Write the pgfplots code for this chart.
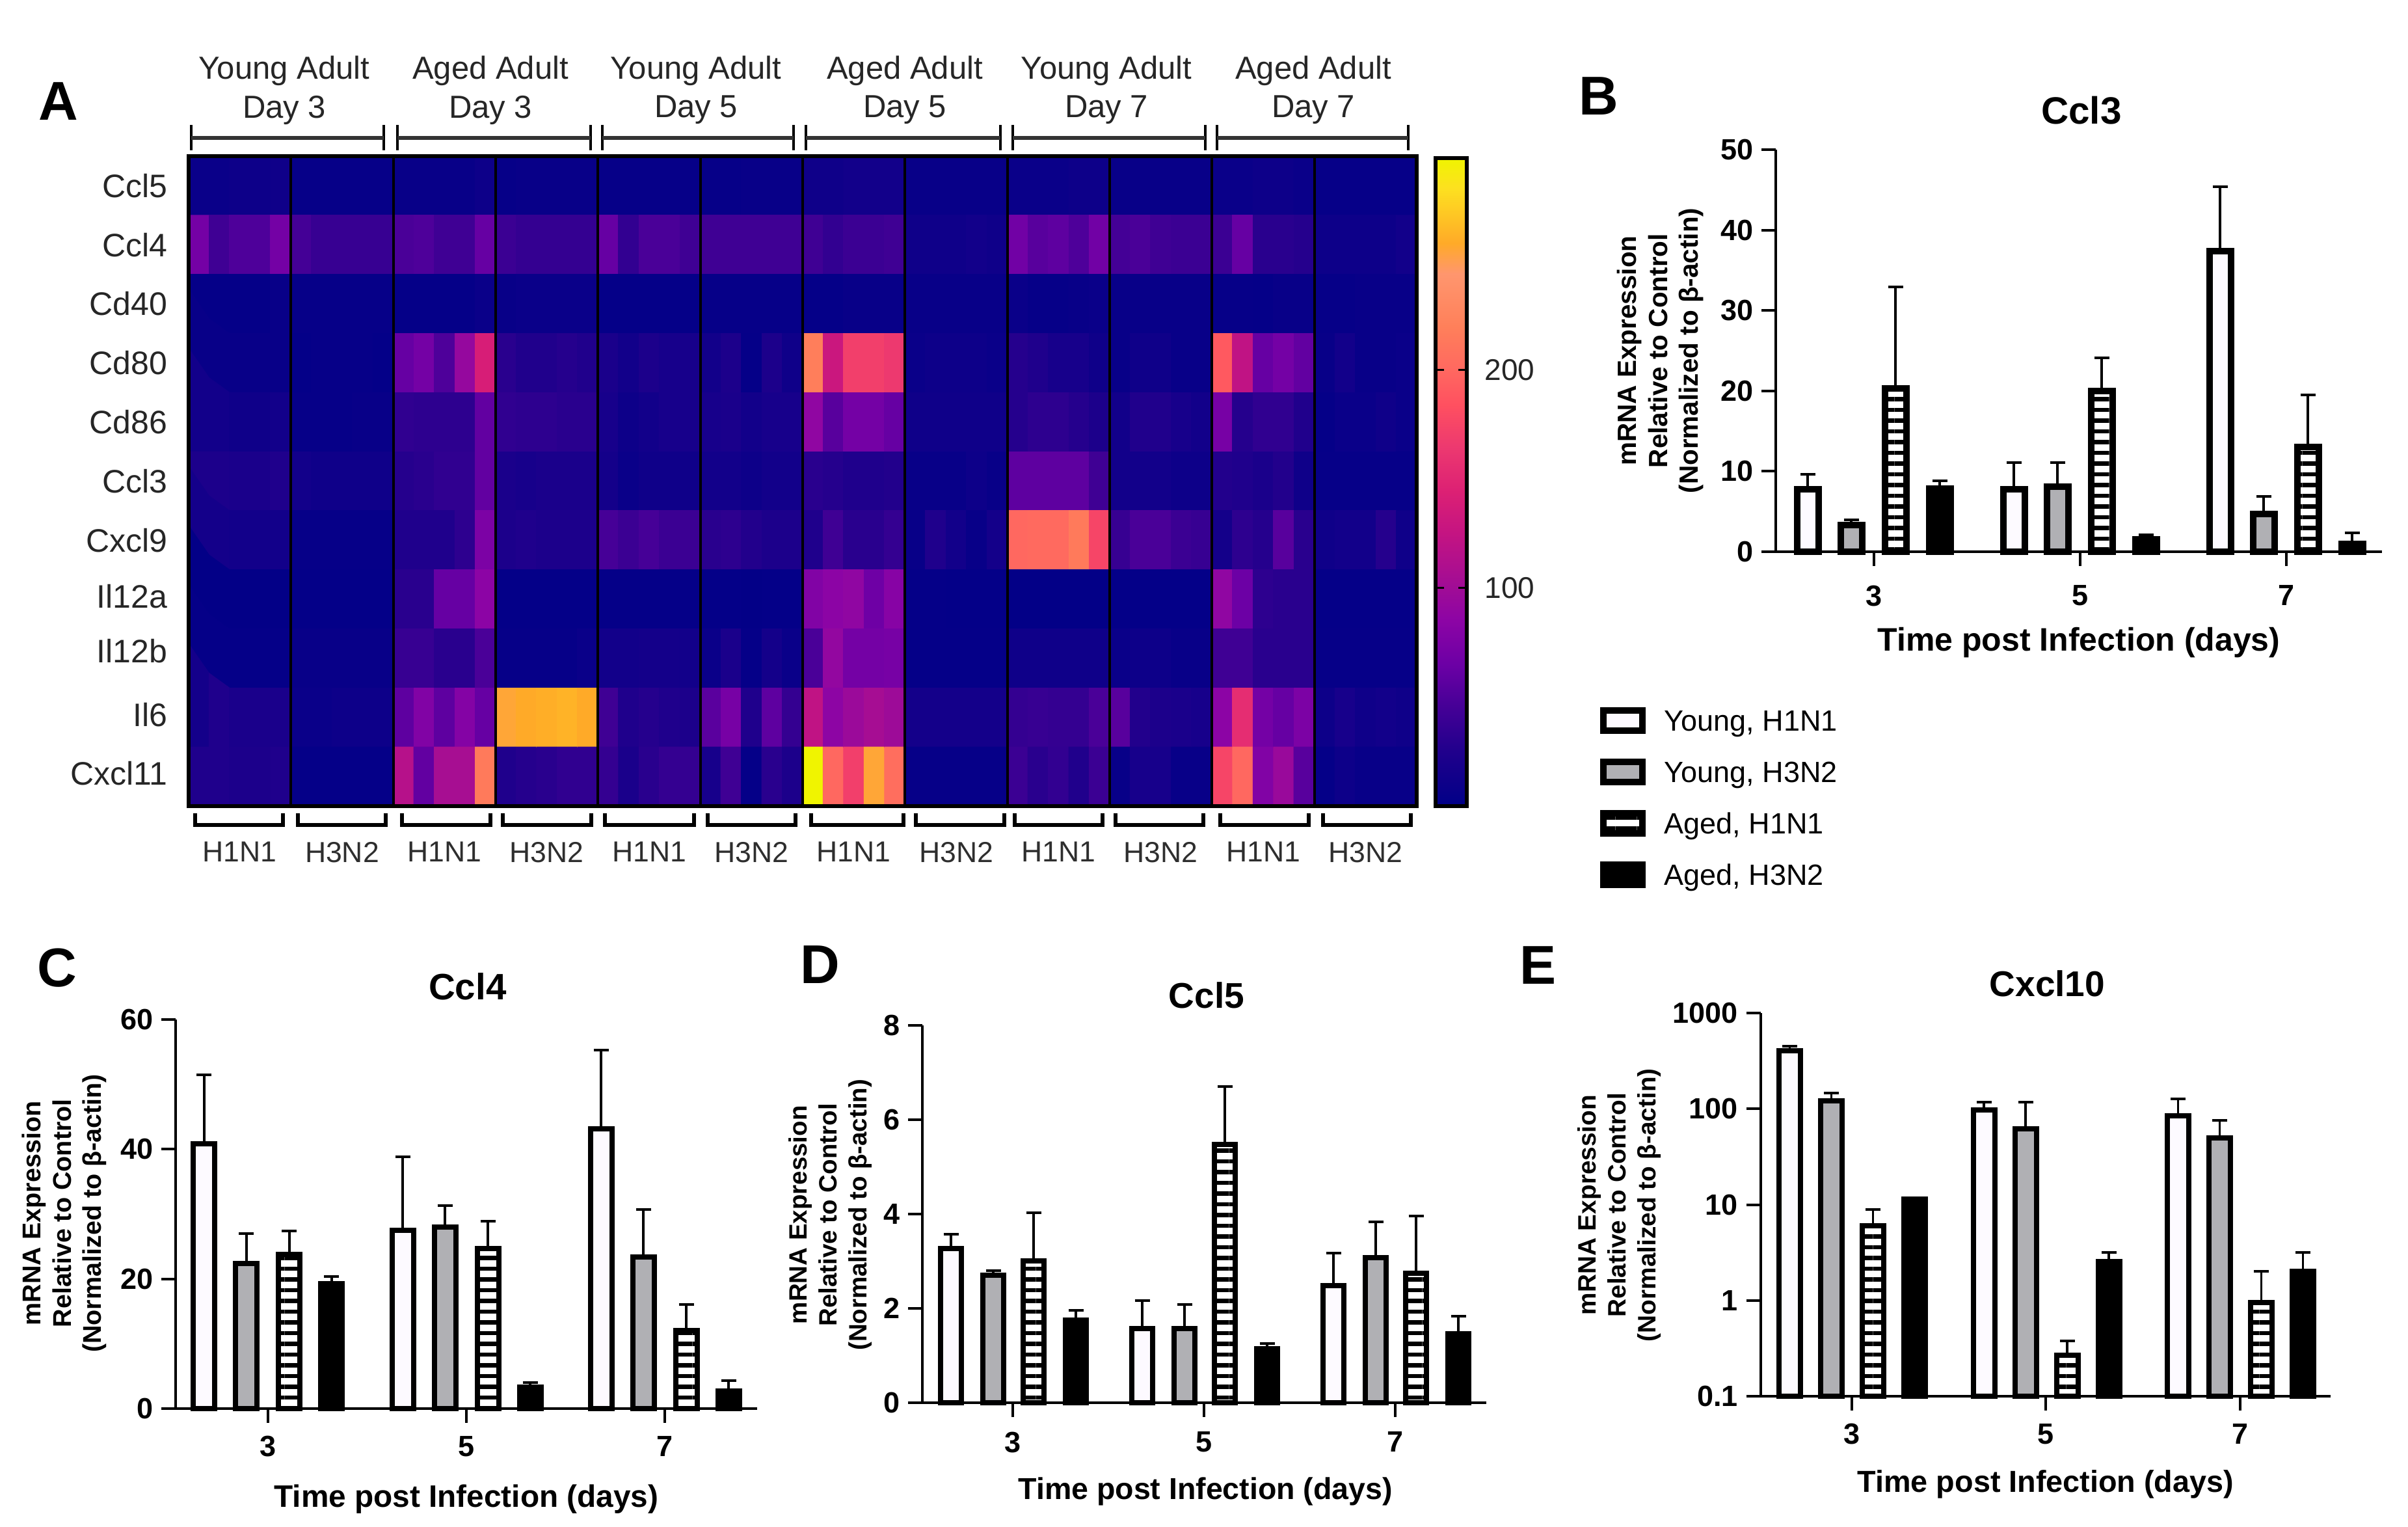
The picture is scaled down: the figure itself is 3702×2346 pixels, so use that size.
\documentclass[border=0pt]{standalone}
\usepackage{fontspec}
\setmainfont{Liberation Sans}
\usepackage{pgfplots}
\pgfplotsset{compat=1.18}
\usetikzlibrary{patterns.meta}
\definecolor{wfill}{RGB}{253,250,255}
\definecolor{gfill}{RGB}{176,176,180}
\newcommand{\fnt}[1]{\fontsize{#1}{#1}\selectfont}
\pgfplotsset{
  myleg/.style={legend image code/.code={\draw[##1,line width=2pt] (0pt,-3.1pt) rectangle (12pt,3.1pt);\path[draw=none,fill=none] (0pt,0pt) -- (18.8pt,0pt);}},
  s1/.style={ybar,bar shift=#1,draw=black,fill=wfill,myleg},
  s2/.style={ybar,bar shift=#1,draw=black,fill=gfill,myleg},
  s3/.style={ybar,bar shift=#1,draw=black,pattern={Lines[angle=0,distance=3.3pt,line width=1.35pt]},pattern color=black,myleg},
  s4/.style={ybar,bar shift=#1,draw=black,fill=black,myleg},
  errs/.style={error bars/.cd,y dir=plus,y explicit,
     error bar style={xshift=#1,line width=.7pt,black,solid},
     error mark options={rotate=90,line width=.8pt,mark size=2.3pt,black,solid}},
  every axis title shift=0pt,
  barax/.style={scale only axis,clip=false,anchor=south west,
     axis x line*=bottom,axis y line*=left,
     axis line style={line width=.8pt,black},
     tick align=outside,major tick length=4.4pt,tick style={black,line width=.8pt},
     xtick={3,5,7},xticklabels={3,5,7},
     tick label style={font=\bfseries\fnt{9}},
     xticklabel shift=2.4pt,yticklabel shift=-1pt,
     title style={font=\bfseries\fnt{11.7},anchor=center,yshift=0pt},
     xlabel={Time post Infection (days)},
     xlabel style={font=\bfseries\fnt{10},anchor=center},
     ylabel={mRNA Expression\\Relative to Control\\(Normalized to β-actin)},
     ylabel style={align=center,anchor=center,font=\bfseries\fontsize{8.1}{9.5}\selectfont},
  },
}
\begin{document}
\begin{tikzpicture}
\begin{scope}[x=0.2pt,y=-0.2pt]
\path[use as bounding box] (0,0) rectangle (3702,2346);
\end{scope}

% ---------- A: heat map
\begin{axis}[scale only axis,at={(58pt,-247.8pt)},anchor=south west,
  width=377.6pt,height=199.8pt,
  xmin=-0.5,xmax=59.5,ymin=-0.5,ymax=10.5,y dir=reverse,enlargelimits=false,
  axis on top,axis line style={line width=1.3pt,black},
  xtick={2,7,12,17,22,27,32,37,42,47,52,57},
  xticklabels={H1N1,H3N2,H1N1,H3N2,H1N1,H3N2,H1N1,H3N2,H1N1,H3N2,H1N1,H3N2},
  ytick={0,1,2,3,4,5,6,6.95,7.88,8.95,9.95},
  yticklabels={Ccl5,Ccl4,Cd40,Cd80,Cd86,Ccl3,Cxcl9,Il12a,Il12b,Il6,Cxcl11},
  major tick length=0pt,
  xticklabel style={font=\fnt{8.9},text=black!82,yshift=-7.5pt},
  yticklabel style={font=\fnt{10},text=black!85,xshift=-3pt},
  point meta min=0,point meta max=297,
  colormap={hm}{
    rgb255(0)=(0,0,135) rgb255(25)=(32,0,140) rgb255(45)=(68,0,150)
    rgb255(65)=(108,0,165) rgb255(85)=(140,4,165) rgb255(100)=(160,12,150)
    rgb255(125)=(196,20,130) rgb255(144)=(220,32,116) rgb255(164)=(236,56,112)
    rgb255(184)=(255,80,96) rgb255(200)=(255,104,96) rgb255(220)=(255,128,90)
    rgb255(244)=(255,150,110) rgb255(258)=(255,170,40) rgb255(283)=(253,224,32)
    rgb255(297)=(240,244,0)},
  colorbar,
  colorbar style={at={(1.0153,0.997)},anchor=north west,scale only axis,
    width=9.6pt,height=199.2pt,
    ytick={100,200},yticklabels={100,200},
    yticklabel pos=right,ytick pos=both,tick align=inside,
    major tick length=2.6pt,tick style={black,line width=.7pt},
    axis line style={line width=1.2pt,black},
    yticklabel style={font=\fnt{9.2},text=black!85,xshift=2pt},
  },
]
\addplot[matrix plot,draw=mapped color,line width=.2pt,mesh/cols=60,point meta=explicit] table[row sep=\\,x expr={mod(\coordindex,60)},y expr={floor(\coordindex/60)},meta=v] {
v\\
8\\8\\10\\10\\12\\5\\5\\5\\5\\5\\6\\6\\6\\6\\10\\5\\6\\6\\6\\6\\5\\5\\5\\5\\5\\5\\5\\6\\6\\6\\12\\12\\14\\14\\14\\6\\6\\6\\6\\6\\8\\8\\8\\10\\10\\6\\6\\6\\6\\6\\8\\8\\10\\10\\8\\5\\5\\5\\5\\5\\
70\\42\\50\\50\\70\\45\\38\\38\\38\\38\\48\\50\\42\\42\\62\\40\\36\\36\\36\\36\\62\\35\\48\\48\\42\\42\\42\\42\\42\\42\\42\\35\\40\\40\\42\\12\\12\\12\\14\\12\\68\\55\\58\\50\\68\\45\\48\\42\\40\\40\\40\\62\\30\\30\\28\\10\\10\\10\\10\\14\\
4\\4\\4\\4\\6\\5\\5\\5\\5\\5\\4\\4\\4\\4\\8\\6\\8\\8\\8\\8\\4\\4\\4\\4\\4\\5\\5\\5\\5\\5\\4\\4\\6\\6\\6\\6\\6\\6\\6\\6\\8\\5\\5\\6\\8\\6\\6\\6\\6\\6\\5\\5\\4\\6\\6\\5\\5\\6\\6\\6\\
6\\6\\6\\6\\6\\3\\5\\5\\5\\3\\62\\70\\50\\92\\140\\30\\25\\25\\28\\25\\20\\14\\22\\18\\18\\14\\22\\4\\22\\12\\218\\130\\170\\170\\165\\8\\10\\10\\10\\8\\28\\24\\18\\18\\12\\6\\12\\12\\6\\6\\190\\122\\62\\70\\60\\6\\14\\6\\6\\8\\
14\\14\\12\\12\\14\\5\\5\\5\\6\\6\\34\\32\\32\\32\\60\\34\\32\\32\\30\\30\\18\\10\\14\\18\\18\\18\\20\\14\\18\\18\\88\\55\\70\\70\\62\\12\\12\\12\\12\\12\\28\\32\\32\\28\\22\\14\\25\\25\\18\\14\\72\\28\\34\\34\\25\\4\\8\\8\\12\\8\\
22\\22\\20\\20\\24\\14\\12\\12\\12\\12\\28\\30\\34\\34\\60\\20\\18\\20\\20\\20\\16\\8\\12\\12\\12\\14\\14\\10\\14\\14\\30\\28\\24\\24\\26\\6\\6\\6\\10\\6\\58\\58\\58\\58\\42\\14\\14\\14\\10\\10\\26\\24\\20\\26\\12\\5\\5\\5\\5\\5\\
16\\16\\14\\14\\14\\5\\5\\5\\5\\5\\24\\24\\24\\32\\75\\22\\24\\22\\22\\22\\46\\40\\46\\40\\40\\30\\32\\26\\22\\22\\24\\42\\30\\30\\36\\6\\24\\14\\6\\16\\200\\202\\202\\215\\175\\38\\48\\48\\40\\38\\16\\32\\28\\55\\30\\12\\14\\14\\28\\12\\
2\\2\\2\\2\\2\\3\\3\\3\\3\\3\\30\\30\\62\\62\\85\\3\\3\\3\\3\\3\\4\\4\\4\\4\\4\\3\\3\\2\\3\\3\\78\\85\\88\\66\\82\\4\\4\\3\\3\\3\\2\\2\\2\\2\\2\\3\\3\\3\\3\\3\\88\\65\\32\\30\\30\\4\\4\\4\\4\\4\\
4\\4\\4\\4\\4\\6\\6\\6\\6\\6\\38\\38\\30\\30\\48\\5\\5\\5\\5\\8\\14\\14\\16\\16\\14\\8\\20\\4\\16\\8\\48\\90\\70\\70\\72\\4\\4\\4\\4\\4\\12\\12\\12\\12\\12\\8\\10\\10\\6\\6\\42\\42\\30\\30\\30\\5\\5\\5\\5\\5\\
16\\24\\20\\20\\20\\8\\8\\10\\10\\10\\58\\78\\58\\80\\62\\255\\258\\260\\262\\258\\42\\24\\28\\24\\22\\56\\72\\24\\58\\36\\122\\86\\96\\104\\98\\16\\16\\16\\16\\16\\36\\38\\36\\36\\48\\55\\26\\22\\20\\18\\85\\155\\70\\62\\75\\10\\18\\12\\14\\12\\
24\\24\\22\\22\\24\\4\\4\\4\\4\\4\\115\\60\\105\\105\\215\\24\\28\\30\\34\\34\\36\\20\\30\\36\\36\\18\\42\\4\\30\\22\\297\\200\\170\\255\\205\\5\\5\\5\\5\\5\\40\\30\\35\\25\\40\\6\\18\\18\\6\\6\\175\\200\\78\\95\\55\\4\\10\\6\\6\\6\\
};
\pgfplotsinvokeforeach{4.5,9.5,14.5,19.5,24.5,29.5,34.5,39.5,44.5,49.5,54.5}{
  \draw[black,line width=.85pt] (axis cs:#1,-0.5) -- (axis cs:#1,10.5);}
\end{axis}

% ---------- B: Ccl3
\begin{axis}[barax,at={(546pt,-169.6pt)},width=186.4pt,height=123.6pt,
  xmin=2.047,xmax=7.927,ymin=0,ymax=50,bar width=6.6pt,
  every axis plot/.append style={line width=2pt},
  ytick={0,10,20,30,40,50},yticklabels={0,10,20,30,40,50},
  title={Ccl3},title style={at={(axis description cs:.504,1.097)}},
  xlabel style={at={(axis description cs:.5,-.226)}},
  ylabel style={at={(axis description cs:-.19,.5)}},
  legend style={at={(axis description cs:-.29,-.387)},anchor=north west,draw=none,fill=none,
     inner sep=0pt,outer sep=0pt,row sep=7.6pt,font=\fnt{9},
     nodes={inner sep=0pt,text depth=0pt,text height=6.5pt}},
  legend cell align=left,
]
\addplot[s1=-20.4pt,errs=-20.4pt] coordinates {(3,7.8) +- (0,1.86) (5,7.8) +- (0,3.3) (7,37.4) +- (0,8)};
\addplot[s2=-7pt,errs=-7pt] coordinates {(3,3.3) +- (0,.66) (5,8.1) +- (0,3) (7,4.7) +- (0,2.2)};
\addplot[s3=6.6pt,errs=6.6pt] coordinates {(3,20.3) +- (0,12.6) (5,20) +- (0,4.1) (7,13) +- (0,6.5)};
\addplot[s4=20.2pt,errs=20.2pt] coordinates {(3,7.85) +- (0,1) (5,1.5) +- (0,.58) (7,1) +- (0,1.35)};
\legend{{Young, H1N1},{Young, H3N2},{Aged, H1N1},{Aged, H3N2}}
\end{axis}

% ---------- C: Ccl4
\begin{axis}[barax,at={(54pt,-433pt)},width=178.8pt,height=119.6pt,
  xmin=2.069,xmax=7.931,ymin=0,ymax=60,bar width=6.6pt,
  every axis plot/.append style={line width=1.6pt},
  ytick={0,20,40,60},yticklabels={0,20,40,60},xticklabel shift=.5pt,
  title={Ccl4},title style={at={(axis description cs:.502,1.085)},font=\bfseries\fnt{11.3}},
  xlabel style={at={(axis description cs:.5,-.232)},font=\bfseries\fnt{9.55}},
  ylabel style={at={(axis description cs:-.191,.502)},font=\bfseries\fontsize{7.9}{9.3}\selectfont},
]
\addplot[s1=-19.6pt,errs=-19.6pt] coordinates {(3,40.8) +- (0,10.7) (5,27.5) +- (0,11.3) (7,43.2) +- (0,12.1)};
\addplot[s2=-6.6pt,errs=-6.6pt] coordinates {(3,22.4) +- (0,4.6) (5,28) +- (0,3.3) (7,23.4) +- (0,7.3)};
\addplot[s3=6.6pt,errs=6.6pt] coordinates {(3,23.8) +- (0,3.6) (5,24.7) +- (0,4.2) (7,12) +- (0,4.1)};
\addplot[s4=19.6pt,errs=19.6pt] coordinates {(3,19.3) +- (0,1.1) (5,3.3) +- (0,.7) (7,2.7) +- (0,1.6)};
\end{axis}

% ---------- D: Ccl5
\begin{axis}[barax,at={(283.6pt,-431.2pt)},width=173.4pt,height=116pt,
  xmin=2.054,xmax=7.952,ymin=0,ymax=8,bar width=6.5pt,
  every axis plot/.append style={line width=1.6pt},
  ytick={0,2,4,6,8},yticklabels={0,2,4,6,8},xticklabel shift=1pt,
  title={Ccl5},title style={at={(axis description cs:.504,1.079)},font=\bfseries\fnt{11}},
  xlabel style={at={(axis description cs:.502,-.235)},font=\bfseries\fnt{9.3}},
  ylabel style={at={(axis description cs:-.163,.498)},font=\bfseries\fontsize{7.7}{9.2}\selectfont},
]
\addplot[s1=-19pt,errs=-19pt] coordinates {(3,3.27) +- (0,.30) (5,1.58) +- (0,.58) (7,2.49) +- (0,.69)};
\addplot[s2=-6pt,errs=-6pt] coordinates {(3,2.71) +- (0,.09) (5,1.58) +- (0,.5) (7,3.08) +- (0,.76)};
\addplot[s3=6.4pt,errs=6.4pt] coordinates {(3,3.01) +- (0,1.02) (5,5.48) +- (0,1.22) (7,2.75) +- (0,1.21)};
\addplot[s4=19.4pt,errs=19.4pt] coordinates {(3,1.75) +- (0,.21) (5,1.15) +- (0,.11) (7,1.47) +- (0,.36)};
\end{axis}

% ---------- E: Cxcl10
\begin{axis}[barax,at={(541.3pt,-429.2pt)},width=175.3pt,height=117.8pt,
  xmin=2.062,xmax=7.935,ymode=log,log origin=infty,ymin=0.1,ymax=1000,bar width=6.6pt,
  every axis plot/.append style={line width=1.6pt},
  ytick={0.1,1,10,100,1000},yticklabels={0.1,1,10,100,1000},yminorticks=false,xticklabel shift=.5pt,
  title={Cxcl10},title style={at={(axis description cs:.503,1.076)},font=\bfseries\fnt{11}},
  xlabel style={at={(axis description cs:.5,-.23)},font=\bfseries\fnt{9.35}},
  ylabel style={at={(axis description cs:-.248,.499)},font=\bfseries\fontsize{7.75}{9.2}\selectfont},
]
\addplot[s1=-19pt,errs=-19pt] coordinates {(3,401) +- (0,47) (5,97) +- (0,21) (7,84) +- (0,43)};
\addplot[s2=-6.2pt,errs=-6.2pt] coordinates {(3,122) +- (0,25) (5,62) +- (0,56) (7,50) +- (0,26)};
\addplot[s3=6.6pt,errs=6.6pt] coordinates {(3,6.0) +- (0,2.9) (5,0.27) +- (0,0.106) (7,0.95) +- (0,1.07)};
\addplot[s4=19.4pt,errs=19.4pt] coordinates {(3,11.4) +- (0,0) (5,2.54) +- (0,0.65) (7,2.0) +- (0,1.16)};
\end{axis}

% ---------- annotations
\begin{scope}[x=0.2pt,y=-0.2pt]
\foreach \a/\b in {294/590,611/908,926/1220,1239/1538,1557/1853,1871/2165}{
  \draw[black,line width=.8pt] (\a,192) -- (\a,231) (\b,192) -- (\b,231);
  \draw[black!80,line width=1.2pt] (\a,212) -- (\b,212);}
\foreach \a/\b in {300/435,458/593,618/754,773/909,930/1067,1088/1223,1247/1389,1408/1544,1560/1695,1715/1850,1876/2012,2034/2169}{
  \draw[black,line width=1.1pt] (\a,1250) -- (\a,1268) -- (\b,1268) -- (\b,1250);}
\foreach \x/\top/\bot in {437/Young Adult/Day 3,754/Aged Adult/Day 3,1070/Young Adult/Day 5,1391/Aged Adult/Day 5,1701/Young Adult/Day 7,2019/Aged Adult/Day 7}{
  \node[font=\fnt{9.8},text=black!85] at (\x,109) {\top};
  \node[font=\fnt{9.8},text=black!85] at (\x,169) {\bot};}
\foreach \x/\y/\l in {90/156/A,2458/148/B,88/1488/C,1261/1483/D,2364/1484/E}{
  \node[font=\bfseries\fnt{16.8}] at (\x,\y) {\l};}
\end{scope}
\end{tikzpicture}
\end{document}
